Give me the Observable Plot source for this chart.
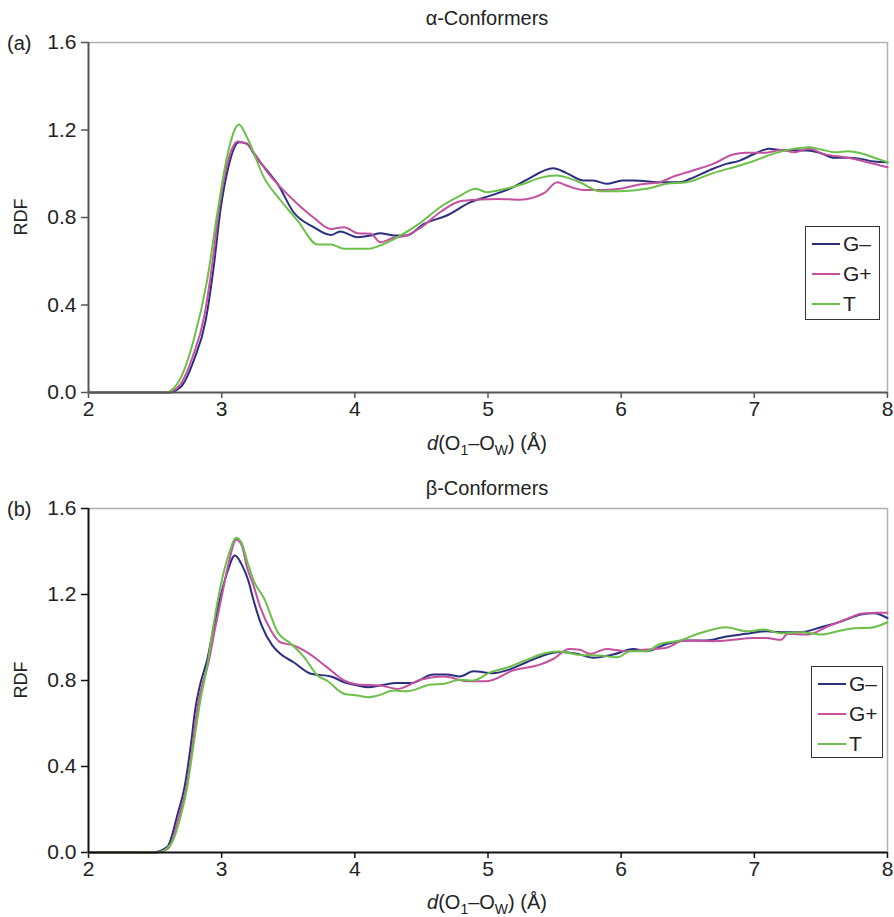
<!DOCTYPE html>
<html>
<head>
<meta charset="utf-8">
<script src="https://cdn.jsdelivr.net/npm/d3@7"></script>
<script src="https://cdn.jsdelivr.net/npm/@observablehq/plot@0.6"></script>
<style>
  body { margin: 0; background: #fff; }
  #fig { position: relative; width: 894px; height: 917px; font-family: "Liberation Sans", Arial, Helvetica, sans-serif; color: #222; }
  .abs { position: absolute; white-space: nowrap; }
  .title { font-size: 20px; transform: translate(-50%, -50%); }
  .xlab { font-size: 20px; transform: translate(-50%, -50%); }
  .panel { font-size: 20px; transform: translateY(-50%); }
  .ylab { font-size: 18px; transform: translate(-50%, -50%) rotate(-90deg); }
  .legend { position: absolute; border: 1px solid #333; background: #fff; font-size: 21px; }
  .legend .sw { position: absolute; height: 2px; }
  .legend .lt { position: absolute; transform: translateY(-50%); }
  sub { font-size: 14px; vertical-align: -5px; line-height: 0; }
</style>
</head>
<body>
<div id="fig"></div>
<script>
// ---------- data ----------
const seriesNames = ["G–", "G+", "T"];
const seriesColors = ["#2b2e7e", "#c4519f", "#6cc04a"];
const xTicks = [2, 3, 4, 5, 6, 7, 8];
const yTicks = [0, 0.4, 0.8, 1.2, 1.6];
const panelTitles = ["α-Conformers", "β-Conformers"];
const panelTags = ["(a)", "(b)"];

// Panel (a) α-conformers: [d(Å), RDF]
const aGminus = [[2,0],[2.60,0],[2.69,0.024],[2.79,0.146],[2.88,0.33],[2.94,0.573],[2.99,0.83],[3.05,1.03],[3.13,1.144],[3.19,1.137],[3.25,1.083],[3.34,1.015],[3.42,0.954],[3.54,0.824],[3.69,0.756],[3.82,0.72],[3.89,0.736],[4.02,0.71],[4.12,0.718],[4.19,0.728],[4.29,0.718],[4.39,0.718],[4.52,0.771],[4.69,0.809],[4.87,0.87],[5.02,0.90],[5.19,0.939],[5.29,0.972],[5.49,1.025],[5.59,1.003],[5.72,0.969],[5.79,0.969],[5.89,0.954],[6.01,0.969],[6.09,0.969],[6.32,0.961],[6.44,0.961],[6.52,0.977],[6.69,1.023],[6.79,1.045],[6.89,1.06],[6.99,1.088],[7.11,1.114],[7.20,1.109],[7.40,1.106],[7.50,1.094],[7.60,1.073],[7.70,1.073],[7.80,1.068],[7.90,1.056],[8.0,1.053]];
const aGplus = [[2,0],[2.59,0],[2.68,0.03],[2.78,0.16],[2.87,0.35],[2.93,0.59],[2.98,0.84],[3.04,1.04],[3.12,1.148],[3.18,1.14],[3.25,1.09],[3.34,1.01],[3.44,0.94],[3.57,0.862],[3.69,0.80],[3.82,0.748],[3.92,0.756],[4.02,0.728],[4.12,0.726],[4.19,0.687],[4.29,0.707],[4.39,0.718],[4.50,0.756],[4.64,0.824],[4.79,0.874],[4.94,0.882],[5.07,0.885],[5.24,0.881],[5.42,0.911],[5.52,0.961],[5.59,0.946],[5.72,0.926],[5.89,0.926],[5.99,0.931],[6.14,0.951],[6.29,0.961],[6.39,0.987],[6.54,1.015],[6.69,1.045],[6.84,1.088],[6.94,1.096],[7.09,1.096],[7.20,1.109],[7.30,1.098],[7.41,1.114],[7.52,1.091],[7.70,1.073],[7.85,1.053],[8.0,1.03]];
const aT = [[2,0],[2.58,0],[2.69,0.064],[2.79,0.24],[2.89,0.51],[2.97,0.83],[3.04,1.076],[3.13,1.225],[3.19,1.167],[3.32,0.98],[3.44,0.88],[3.57,0.786],[3.72,0.677],[3.82,0.677],[3.92,0.657],[4.10,0.657],[4.19,0.672],[4.32,0.71],[4.49,0.774],[4.64,0.847],[4.77,0.893],[4.91,0.931],[4.99,0.916],[5.12,0.93],[5.27,0.954],[5.39,0.981],[5.51,0.992],[5.69,0.961],[5.84,0.92],[5.99,0.92],[6.19,0.931],[6.34,0.954],[6.49,0.961],[6.69,1.003],[6.89,1.038],[6.99,1.057],[7.14,1.091],[7.30,1.114],[7.41,1.121],[7.50,1.111],[7.61,1.098],[7.70,1.103],[7.80,1.094],[7.90,1.073],[8.0,1.053]];

// Panel (b) β-conformers: [d(Å), RDF]
const bGminus = [[2,0],[2.48,0],[2.59,0.025],[2.67,0.18],[2.72,0.30],[2.77,0.506],[2.80,0.66],[2.84,0.785],[2.89,0.893],[2.94,1.048],[2.99,1.187],[3.04,1.30],[3.10,1.381],[3.15,1.34],[3.20,1.265],[3.24,1.172],[3.30,1.056],[3.38,0.963],[3.44,0.924],[3.54,0.885],[3.67,0.831],[3.82,0.819],[3.92,0.792],[4.02,0.777],[4.10,0.769],[4.19,0.777],[4.32,0.788],[4.42,0.788],[4.59,0.828],[4.69,0.828],[4.79,0.819],[4.89,0.843],[5.04,0.834],[5.14,0.847],[5.29,0.885],[5.44,0.921],[5.54,0.932],[5.67,0.924],[5.79,0.906],[5.94,0.921],[6.09,0.947],[6.19,0.936],[6.34,0.970],[6.49,0.986],[6.64,0.986],[6.79,1.005],[6.94,1.017],[7.09,1.029],[7.20,1.025],[7.35,1.025],[7.50,1.048],[7.65,1.074],[7.80,1.107],[7.90,1.113],[8.0,1.09]];
const bGplus = [[2,0],[2.50,0],[2.60,0.02],[2.68,0.17],[2.73,0.29],[2.78,0.49],[2.81,0.64],[2.85,0.77],[2.90,0.88],[2.95,1.04],[3.00,1.19],[3.05,1.34],[3.11,1.455],[3.15,1.43],[3.19,1.327],[3.24,1.24],[3.29,1.141],[3.37,1.033],[3.44,0.978],[3.54,0.963],[3.64,0.932],[3.79,0.862],[3.92,0.80],[4.02,0.781],[4.19,0.777],[4.32,0.761],[4.49,0.803],[4.67,0.819],[4.84,0.797],[4.99,0.797],[5.19,0.847],[5.39,0.874],[5.49,0.90],[5.61,0.947],[5.69,0.943],[5.77,0.924],[5.89,0.947],[6.04,0.936],[6.17,0.943],[6.34,0.952],[6.47,0.986],[6.69,0.983],[6.84,0.989],[6.99,0.998],[7.09,0.998],[7.20,0.989],[7.25,1.017],[7.40,1.014],[7.55,1.051],[7.70,1.087],[7.80,1.110],[7.92,1.115],[8.0,1.115]];
const bT = [[2,0],[2.52,0],[2.62,0.04],[2.69,0.164],[2.74,0.30],[2.79,0.506],[2.84,0.707],[2.89,0.862],[2.94,1.063],[2.99,1.234],[3.05,1.38],[3.11,1.464],[3.15,1.44],[3.19,1.358],[3.24,1.265],[3.32,1.18],[3.42,1.025],[3.52,0.971],[3.62,0.908],[3.72,0.823],[3.79,0.80],[3.92,0.738],[4.02,0.730],[4.10,0.722],[4.19,0.733],[4.29,0.753],[4.39,0.75],[4.57,0.781],[4.67,0.785],[4.79,0.803],[4.89,0.80],[5.02,0.839],[5.14,0.859],[5.29,0.896],[5.44,0.929],[5.54,0.935],[5.69,0.919],[5.84,0.916],[5.97,0.908],[6.07,0.936],[6.19,0.936],[6.29,0.970],[6.44,0.986],[6.59,1.020],[6.79,1.048],[6.94,1.029],[7.07,1.037],[7.20,1.020],[7.35,1.025],[7.50,1.014],[7.65,1.033],[7.75,1.043],[7.87,1.045],[8.0,1.071]];

// ---------- build ----------
const fig = document.getElementById("fig");
const FONT = '"Liberation Sans", Arial, Helvetica, sans-serif';

function toRows(arrays) {
  const rows = [];
  arrays.forEach((arr, i) => arr.forEach(([d, v]) => rows.push({ d, v, s: seriesNames[i] })));
  return rows;
}

function makePanel(arrays, cfg) {
  const rows = toRows(arrays);
  const chart = Plot.plot({
    width: 894,
    height: cfg.height,
    marginLeft: 88,
    marginRight: 7,
    marginTop: cfg.marginTop,
    marginBottom: 32,
    style: { fontFamily: FONT, color: "#222", background: "transparent", overflow: "visible" },
    x: { domain: [2, 8] },
    y: { domain: [0, 1.6] },
    color: { domain: seriesNames, range: seriesColors },
    marks: [
      Plot.ruleY([1.6], { stroke: "#b0b0b0", strokeWidth: 1.5 }),
      Plot.ruleX([8], { stroke: "#b0b0b0", strokeWidth: 1.5 }),
      Plot.axisX({ ticks: xTicks, tickFormat: d3.format("d"), tickSize: 6, tickPadding: 3, label: null, stroke: cfg.axis, strokeWidth: 1.5 }),
      Plot.axisY({ ticks: yTicks, tickFormat: d3.format(".1f"), tickSize: 7, tickPadding: 5, label: null, stroke: cfg.axis, strokeWidth: 1.5 }),
      Plot.line(rows, { x: "d", y: "v", z: "s", stroke: "s", strokeWidth: 2, curve: "monotone-x" }),
      Plot.ruleY([0], { stroke: cfg.axis, strokeWidth: 2 }),
      Plot.ruleX([2], { stroke: cfg.axis, strokeWidth: 2 })
    ]
  });
  // enforce tick-label font size on every text node
  d3.select(chart).selectAll("text")
    .style("font-size", "21px")
    .style("font-family", FONT)
    .attr("font-size", 21);
  d3.select(chart).selectAll("g").filter(function () { return this.hasAttribute("font-size"); })
    .attr("font-size", 21);
  chart.setAttribute("font-size", 21);
  chart.style.position = "absolute";
  chart.style.left = "0px";
  chart.style.top = cfg.top + "px";
  fig.appendChild(chart);
}

function addText(cls, html, x, y) {
  const el = document.createElement("div");
  el.className = "abs " + cls;
  el.style.left = x + "px";
  el.style.top = y + "px";
  el.innerHTML = html;
  fig.appendChild(el);
}

function addLegend(box) {
  const lg = document.createElement("div");
  lg.className = "legend";
  lg.style.left = box.left + "px";
  lg.style.top = box.top + "px";
  lg.style.width = box.width + "px";
  lg.style.height = box.height + "px";
  seriesNames.forEach((name, i) => {
    const y = box.first + i * 30;
    const sw = document.createElement("div");
    sw.className = "sw";
    sw.style.left = box.swLeft + "px";
    sw.style.width = "28px";
    sw.style.top = (y - 1) + "px";
    sw.style.background = seriesColors[i];
    lg.appendChild(sw);
    const t = document.createElement("div");
    t.className = "lt";
    t.style.left = (box.swLeft + 31) + "px";
    t.style.top = y + "px";
    t.textContent = name;
    lg.appendChild(t);
  });
  fig.appendChild(lg);
}

makePanel([aGminus, aGplus, aT], { top: 0, marginTop: 42, height: 424, axis: "#555" });
makePanel([bGminus, bGplus, bT], { top: 460, marginTop: 48, height: 424, axis: "#111" });

const xLabel = '<i>d</i>(O<sub>1</sub>–O<sub>W</sub>) (Å)';
addText("title", panelTitles[0], 487, 18);
addText("title", panelTitles[1], 487, 488);
addText("panel", panelTags[0], 7, 43);
addText("panel", panelTags[1], 7, 509);
addText("ylab", "RDF", 21, 217);
addText("ylab", "RDF", 21, 680);
addText("xlab", xLabel, 487, 443);
addText("xlab", xLabel, 487, 902);

addLegend({ left: 805, top: 226, width: 73, height: 92, first: 17, swLeft: 6 });
addLegend({ left: 811, top: 666, width: 70, height: 90, first: 17, swLeft: 6 });
</script>
</body>
</html>
